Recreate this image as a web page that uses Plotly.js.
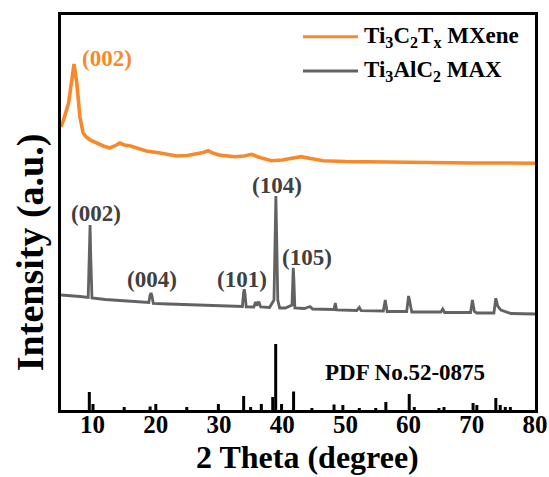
<!DOCTYPE html>
<html>
<head>
<meta charset="utf-8">
<script src="https://cdn.plot.ly/plotly-3.0.1.min.js"></script>
<style>html,body{margin:0;padding:0;background:#fff;}#plot{width:549px;height:477px;}</style>
</head>
<body>
<div id="plot"></div>
<script>
// Ti3C2Tx MXene pattern (2θ, intensity a.u.)
var mxeneX = [5.0,5.4,6.2,6.7,7.06,7.5,8.0,8.5,9.0,9.6,10.5,11.7,12.7,13.5,14.3,15.0,16.0,17.0,18.5,20.7,23.3,25.0,26.5,27.5,28.3,29.0,30.0,32.5,34.0,35.2,36.2,38.3,40.0,41.5,43.0,44.5,46.5,50,55,60,65,70,75,80];
var mxeneY = [283,290,307,333,346,327,293,277,273,270,267,264,262,264,267,265,264,262,259,257,254,254.5,256,257.5,259.3,257,255,253.3,254,255.7,253,249.3,250,252,253.3,251.5,249.3,248.5,248,247.5,247.5,247,247,246.7];

// Ti3AlC2 MAX pattern
var maxX = [5.0,6.5,8.0,9.3,9.5,9.6,9.7,9.9,12,15,18.9,19.1,19.25,19.4,19.6,22,26,30,33.7,33.9,34.0,34.1,34.3,35.5,35.8,36.0,36.3,36.6,38.0,38.7,38.85,39.0,39.15,39.3,39.6,40.5,41.55,41.7,41.75,41.85,42.0,43.5,44.4,44.8,48.2,48.4,48.6,51.8,52.2,52.5,56.0,56.3,56.6,59.7,60.0,60.2,60.5,65.1,65.4,65.7,69.8,70.1,70.4,70.8,73.5,73.8,74.1,74.6,75.5,76.2,80];
var maxY = [115,114.5,113.5,112.5,155,185,155,112,110.5,109,107.5,115,117,114,106.5,106,105,104,103.5,118,120.7,117,103.2,103,108,104.5,108.3,103,102.5,110,160,214,165,110,102,102,105,135,142.3,130,102,101.5,103.5,101,100.5,107,100,99.5,102.5,99.3,99,110,98.5,98.5,114,108,98,98,101,97.5,97.5,110,98.5,97,97,111.7,104,100,98.3,96.5,96];

// PDF No.52-0875 reference lines
var pdfX = [9.48,10.06,15.0,19.1,20.0,24.9,29.9,33.9,35.0,36.7,38.5,38.97,39.9,41.8,44.7,48.2,49.6,52.2,54.8,56.4,60.1,60.9,64.8,65.6,70.2,70.8,73.8,74.5,75.3,76.1];
var pdfH = [18,6,3,3.5,6,3,6,14,3,6,13,66,6,18.5,2,5.5,5,2,2,8,16,3,2,3,7,5,12,5,3,3];

// peak labels
var peakLabels = ["(002)","(004)","(101)","(104)","(105)"];
var peakLabelX = [10.5,19.4,33.6,39.2,43.9];
var peakLabelY = [197,131,131,225,153];
var mxeneLabel = "(002)";
var mxeneLabelX = 12.3, mxeneLabelY = 352;

var xTicks = [10,20,30,40,50,60,70,80];
var xTitle = "2 Theta (degree)";
var yTitle = "Intensity (a.u.)";

var FONT = "Liberation Serif, Times New Roman, serif";
var ORANGE = "#F7892B", GRAY = "#626262", LABELGRAY = "#404040";

var stickX = [], stickY = [];
for (var i = 0; i < pdfX.length; i++) {
  stickX.push(pdfX[i], pdfX[i], null);
  stickY.push(0, pdfH[i], null);
}

var traces = [
  {x: mxeneX, y: mxeneY, type: "scatter", mode: "lines", name: "Ti<sub>3</sub>C<sub>2</sub>T<sub>x</sub> MXene",
   line: {color: ORANGE, width: 3.6}, showlegend: false},
  {x: maxX, y: maxY, type: "scatter", mode: "lines", name: "Ti<sub>3</sub>AlC<sub>2</sub> MAX",
   line: {color: GRAY, width: 2.8}, showlegend: false},
  {x: stickX, y: stickY, type: "scatter", mode: "lines", name: "PDF No.52-0875",
   line: {color: "#000", width: 3}, showlegend: false, connectgaps: false}
];

function bold(t) { return "<b>" + t + "</b>"; }

var annotations = [];
for (var j = 0; j < peakLabels.length; j++) {
  annotations.push({x: peakLabelX[j], y: peakLabelY[j], xref: "x", yref: "y", text: bold(peakLabels[j]),
    showarrow: false, font: {family: FONT, size: 23, weight: "bold", color: LABELGRAY}});
}
annotations.push({x: mxeneLabelX, y: mxeneLabelY, xref: "x", yref: "y", text: bold(mxeneLabel),
  showarrow: false, font: {family: FONT, size: 23, weight: "bold", color: ORANGE}});
annotations.push({x: 59.4, y: 38, xref: "x", yref: "y", text: bold("PDF No.52-0875"),
  showarrow: false, font: {family: FONT, size: 23, weight: "bold", color: "#000"}});
// legend texts
annotations.push({x: 0.635, y: 0.945, xref: "paper", yref: "paper", xanchor: "left", yanchor: "middle",
  text: bold("Ti<sub>3</sub>C<sub>2</sub>T<sub>x</sub> MXene"), showarrow: false,
  font: {family: FONT, size: 23, weight: "bold", color: "#000"}});
annotations.push({x: 0.635, y: 0.858, xref: "paper", yref: "paper", xanchor: "left", yanchor: "middle",
  text: bold("Ti<sub>3</sub>AlC<sub>2</sub> MAX"), showarrow: false,
  font: {family: FONT, size: 23, weight: "bold", color: "#000"}});
// axis titles
annotations.push({x: -0.065, y: 0.4, xref: "paper", yref: "paper", xanchor: "center", yanchor: "middle",
  text: bold(yTitle), textangle: -90, showarrow: false,
  font: {family: FONT, size: 38, weight: "bold", color: "#000"}});
annotations.push({x: 0.521, y: -0.0684, xref: "paper", yref: "paper", xanchor: "center", yanchor: "top",
  text: bold(xTitle), showarrow: false,
  font: {family: FONT, size: 32, weight: "bold", color: "#000"}});

var shapes = [
  {type: "line", xref: "paper", yref: "paper", x0: 0.5105, x1: 0.6266, y0: 0.945, y1: 0.945, line: {color: ORANGE, width: 3}},
  {type: "line", xref: "paper", yref: "paper", x0: 0.5105, x1: 0.6266, y0: 0.858, y1: 0.858, line: {color: GRAY, width: 3}}
];

var layout = {
  width: 549, height: 477,
  margin: {l: 61, r: 14, t: 15, b: 67},
  paper_bgcolor: "#fff", plot_bgcolor: "#fff",
  showlegend: false,
  xaxis: {range: [5, 80], tickvals: xTicks, ticktext: xTicks.map(function (v) { return bold(String(v)); }), ticks: "",
    ticklabelstandoff: -10,
    showline: true, mirror: true, linecolor: "#000", linewidth: 3, showgrid: false, zeroline: false,
    tickfont: {family: FONT, size: 25, weight: "bold", color: "#000"}},
  yaxis: {range: [0, 395], showticklabels: false, ticks: "",
    showline: true, mirror: true, linecolor: "#000", linewidth: 3, showgrid: false, zeroline: false},
  annotations: annotations,
  shapes: shapes
};

Plotly.newPlot("plot", traces, layout, {staticPlot: true});
</script>
</body>
</html>
